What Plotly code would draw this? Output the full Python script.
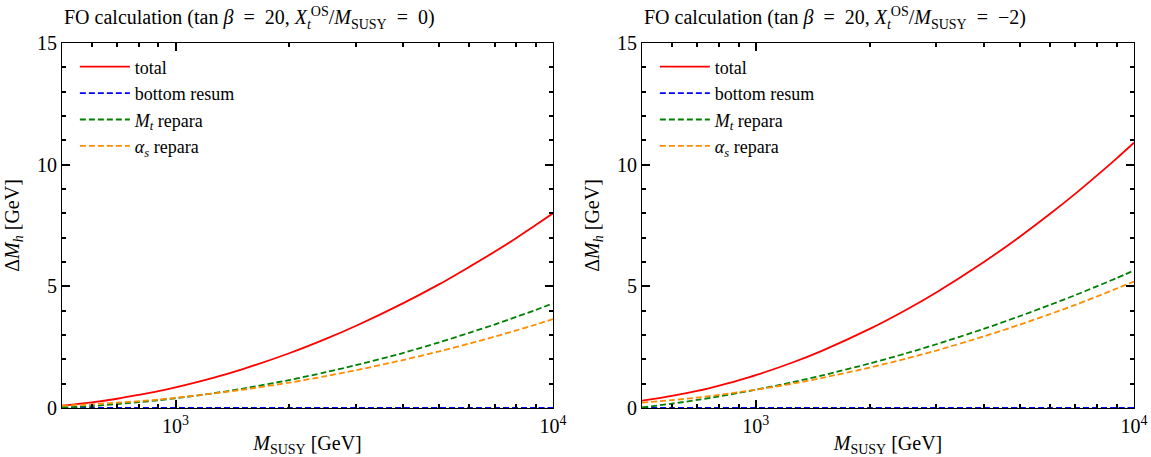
import plotly.graph_objects as go
import math

# SUSY mass scale samples [GeV]
m_susy = [500, 600, 700, 800, 900, 1000, 1250, 1500, 2000, 2500, 3000,
          4000, 5000, 6000, 7000, 8000, 9000, 10000]

# Left panel: X_t^OS / M_SUSY = 0
left_total = [0.10, 0.23, 0.38, 0.54, 0.69, 0.85, 1.23, 1.59, 2.25, 2.84, 3.37,
              4.30, 5.09, 5.80, 6.42, 6.99, 7.52, 8.00]
left_bottom = [0.0] * 18
left_mt = [0.02, 0.08, 0.16, 0.24, 0.32, 0.40, 0.60, 0.79, 1.15, 1.47, 1.76,
           2.26, 2.70, 3.09, 3.43, 3.75, 4.03, 4.30]
left_as = [0.10, 0.155, 0.22, 0.28, 0.35, 0.42, 0.59, 0.75, 1.04, 1.31, 1.55,
           1.97, 2.33, 2.65, 2.93, 3.19, 3.43, 3.65]

# Right panel: X_t^OS / M_SUSY = -2
right_total = [0.30, 0.50, 0.70, 0.92, 1.14, 1.35, 1.87, 2.36, 3.25, 4.04, 4.75,
               5.99, 7.05, 7.98, 8.81, 9.57, 10.26, 10.90]
right_bottom = [0.0] * 18
right_mt = [0.02, 0.18, 0.33, 0.48, 0.62, 0.75, 1.06, 1.34, 1.83, 2.25, 2.62,
            3.25, 3.78, 4.24, 4.64, 5.01, 5.34, 5.65]
right_as = [0.22, 0.32, 0.43, 0.54, 0.65, 0.75, 1.00, 1.24, 1.66, 2.03, 2.36,
            2.94, 3.43, 3.86, 4.24, 4.59, 4.91, 5.20]

series_names = ["total", "bottom resum",
                "<i>M</i><sub><i>t</i></sub> repara",
                "<i>α</i><sub><i>s</i></sub> repara"]
series_colors = ["#ff0000", "#0000ff", "#008000", "#ff8c00"]
series_dash = ["solid", "6px,3px", "6px,3px", "6px,3px"]

SP = "\u2002"  # en space, for math-style spacing around relations
titles = [
    f"FO calculation (tan <i>β</i>{SP}={SP}20, <i>X</i><sub><i>t</i></sub><sup>OS</sup>/<i>M</i><sub>SUSY</sub>{SP}={SP}0)",
    f"FO calculation (tan <i>β</i>{SP}={SP}20, <i>X</i><sub><i>t</i></sub><sup>OS</sup>/<i>M</i><sub>SUSY</sub>{SP}={SP}−2)",
]

FONT = "Liberation Serif, DejaVu Serif, serif"
FS = 20

fig = go.Figure()

panels = [
    (left_total, left_bottom, left_mt, left_as),
    (right_total, right_bottom, right_mt, right_as),
]
for p, ys in enumerate(panels):
    ax = "" if p == 0 else "2"
    for k, y in enumerate(ys):
        fig.add_trace(go.Scatter(
            x=m_susy, y=y, mode="lines", name=series_names[k],
            line=dict(color=series_colors[k], width=1.8, dash=series_dash[k],
                      shape="spline", smoothing=0.8),
            xaxis="x" + ax, yaxis="y" + ax,
            legend="legend" if p == 0 else "legend2",
        ))

minor_x = [600, 700, 800, 900, 2000, 3000, 4000, 5000, 6000, 7000, 8000, 9000]
TW = 1.5

def xaxis(domain, anchor):
    return dict(
        domain=domain, anchor=anchor, type="log", automargin=False,
        range=[math.log10(500), 4],
        tickvals=[1000, 10000], ticktext=["10<sup>3</sup>", "10<sup>4</sup>"],
        ticks="inside", ticklen=8, tickwidth=TW, tickcolor="black",
        minor=dict(tickvals=minor_x, ticks="inside", ticklen=4,
                   tickwidth=TW, tickcolor="black", showgrid=False),
        showline=True, linecolor="black", linewidth=1, mirror="ticks",
        showgrid=False, zeroline=False,
        tickfont=dict(family=FONT, size=FS, color="black"),
        title=dict(text="<i>M</i><sub>SUSY</sub> [GeV]", standoff=4,
                   font=dict(family=FONT, size=FS, color="black")),
    )

def yaxis(anchor):
    return dict(
        domain=[0, 1], anchor=anchor, range=[0, 15], automargin=False,
        dtick=5, tick0=0,
        ticks="inside", ticklen=8, tickwidth=TW, tickcolor="black",
        minor=dict(dtick=1, ticks="inside", ticklen=4, tickwidth=TW,
                   tickcolor="black", showgrid=False),
        showline=True, linecolor="black", linewidth=1, mirror="ticks",
        showgrid=False, zeroline=False,
        tickfont=dict(family=FONT, size=FS, color="black"),
        title=dict(text="Δ<i>M</i><sub><i>h</i></sub> [GeV]", standoff=12,
                   font=dict(family=FONT, size=FS, color="black")),
    )

plot_w = 1151 - 62 - 17
dom_left = [0, 491 / plot_w]
dom_right = [580 / plot_w, 1]

legend_style = dict(
    font=dict(family=FONT, size=18, color="black"),
    bgcolor="rgba(0,0,0,0)", borderwidth=0, itemwidth=50,
    xanchor="left", yanchor="top", tracegroupgap=0,
)

fig.update_layout(
    template="none",
    width=1151, height=457,
    margin=dict(l=62, r=17, t=43, b=49, autoexpand=False),
    paper_bgcolor="white", plot_bgcolor="white",
    xaxis=xaxis(dom_left, "y"),
    yaxis=yaxis("x"),
    xaxis2=xaxis(dom_right, "y2"),
    yaxis2=yaxis("x2"),
    legend=dict(x=0.012, y=0.985, **legend_style),
    legend2=dict(x=dom_right[0] + 0.012, y=0.985, **legend_style),
    annotations=[
        dict(text=titles[0], xref="x domain", yref="paper", x=0, y=1.025,
             xanchor="left", yanchor="bottom", showarrow=False,
             font=dict(family=FONT, size=FS, color="black")),
        dict(text=titles[1], xref="x2 domain", yref="paper", x=0, y=1.025,
             xanchor="left", yanchor="bottom", showarrow=False,
             font=dict(family=FONT, size=FS, color="black")),
    ],
)

fig.write_html("out.html")
